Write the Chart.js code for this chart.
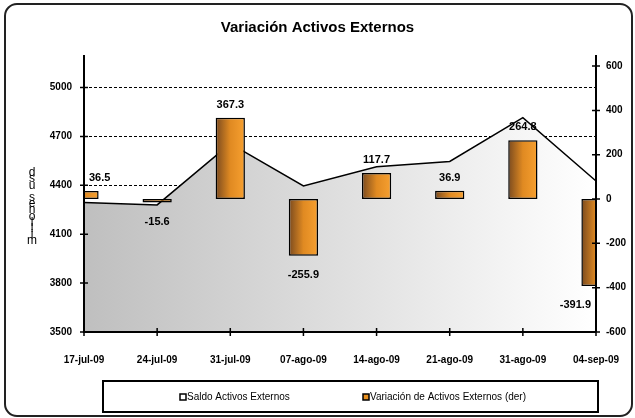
<!DOCTYPE html>
<html>
<head>
<meta charset="utf-8">
<script src="https://cdn.jsdelivr.net/npm/chart.js@4.4.0/dist/chart.umd.min.js"></script>
<style>
  html, body { margin: 0; padding: 0; background: #fff; }
</style>
</head>
<body>
<canvas id="chart" width="635" height="418"></canvas>
<script>
// Datos
const fechas = ['17-jul-09', '24-jul-09', '31-jul-09', '07-ago-09', '14-ago-09', '21-ago-09', '31-ago-09', '04-sep-09'];
const saldoActivos = [4295, 4280, 4656, 4396, 4514, 4547, 4816, 4427];
const variacionActivos = [36.5, -15.6, 367.3, -255.9, 117.7, 36.9, 264.8, -391.9];
const marcasIzq = [3500, 3800, 4100, 4400, 4700, 5000];
const marcasDer = [-600, -400, -200, 0, 200, 400, 600];
const etiquetasSeries = ['Saldo Activos Externos', 'Variación de Activos Externos (der)'];
const tituloGrafico = 'Variación Activos Externos';
const tituloEjeY = 'millones usd';

const FUENTE = '"Liberation Sans", Arial, sans-serif';
Chart.defaults.font.family = FUENTE;
Chart.defaults.color = '#000';

const ANCHO_BARRA = 0.4;

// Marco redondeado y fondo
const marco = {
    id: 'marco',
    beforeDraw(chart) {
        const ctx = chart.ctx;
        ctx.save();
        ctx.fillStyle = '#fff';
        ctx.fillRect(0, 0, chart.width, chart.height);
        const x0 = 5, y0 = 4, x1 = 632, y1 = 416, r = 12;
        ctx.beginPath();
        ctx.moveTo(x0 + r, y0);
        ctx.lineTo(x1 - r, y0);
        ctx.arcTo(x1, y0, x1, y0 + r, r);
        ctx.lineTo(x1, y1 - r);
        ctx.arcTo(x1, y1, x1 - r, y1, r);
        ctx.lineTo(x0 + r, y1);
        ctx.arcTo(x0, y1, x0, y1 - r, r);
        ctx.lineTo(x0, y0 + r);
        ctx.arcTo(x0, y0, x0 + r, y0, r);
        ctx.closePath();
        ctx.strokeStyle = '#222';
        ctx.lineWidth = 2;
        ctx.stroke();
        ctx.restore();
    }
};

// Ejes con marcas cruzadas y etiquetas de las barras
const ejes = {
    id: 'ejes',
    afterDatasetsDraw(chart) {
        const ctx = chart.ctx;
        const { left, right, top, bottom } = chart.chartArea;
        const sy = chart.scales.y, sy1 = chart.scales.y1, sx = chart.scales.x;
        ctx.save();
        ctx.strokeStyle = '#000';
        ctx.lineWidth = 2;
        ctx.beginPath();
        ctx.moveTo(left, top); ctx.lineTo(left, bottom); ctx.lineTo(right, bottom);
        ctx.moveTo(right, top); ctx.lineTo(right, bottom);
        ctx.stroke();
        ctx.lineWidth = 1.5;
        ctx.beginPath();
        sy.ticks.forEach(t => {
            const p = sy.getPixelForValue(t.value);
            ctx.moveTo(left - 4, p); ctx.lineTo(left + 4, p);
        });
        sy1.ticks.forEach(t => {
            const p = sy1.getPixelForValue(t.value);
            ctx.moveTo(right - 4, p); ctx.lineTo(right + 4, p);
        });
        fechas.forEach((f, i) => {
            const p = sx.getPixelForValue(i);
            ctx.moveTo(p, bottom - 4); ctx.lineTo(p, bottom + 4);
        });
        ctx.stroke();

        // etiquetas de valores
        const meta = chart.getDatasetMeta(1);
        ctx.font = 'bold 11px ' + FUENTE;
        ctx.fillStyle = '#000';
        ctx.textAlign = 'center';
        ctx.textBaseline = 'middle';
        meta.data.forEach((bar, i) => {
            const v = variacionActivos[i];
            const txt = v.toFixed(1);
            const w = ctx.measureText(txt).width;
            const x = Math.min(Math.max(bar.x, left + w / 2 + 5), right - w / 2 - 5);
            const y = v >= 0 ? bar.y - 13 : bar.y + 19;
            ctx.fillText(txt, x, y);
        });
        ctx.restore();
    }
};

// Leyenda en recuadro y título del eje vertical
const leyenda = {
    id: 'leyenda',
    afterDraw(chart) {
        const ctx = chart.ctx;
        ctx.save();
        ctx.strokeStyle = '#000';
        ctx.lineWidth = 2;
        ctx.strokeRect(103, 381, 495, 31);
        ctx.font = '10px ' + FUENTE;
        ctx.textBaseline = 'middle';
        ctx.textAlign = 'left';
        const rellenos = ['#ffffff', '#e8901f'];
        const xs = [180, 363];
        etiquetasSeries.forEach((txt, i) => {
            ctx.fillStyle = rellenos[i];
            ctx.fillRect(xs[i], 394, 6, 6);
            ctx.lineWidth = 1.5;
            ctx.strokeRect(xs[i], 394, 6, 6);
            ctx.fillStyle = '#000';
            ctx.fillText(txt, xs[i] + 7, 397.5);
        });

        // título eje Y, letras apiladas de abajo hacia arriba
        ctx.font = '12px ' + FUENTE;
        ctx.textAlign = 'center';
        tituloEjeY.split('').forEach((c, i) => {
            ctx.fillText(c, 32, 241 - i * 6.2);
        });
        ctx.restore();
    }
};

const ctx = document.getElementById('chart').getContext('2d');
new Chart(ctx, {
    data: {
        labels: fechas,
        datasets: [{
            type: 'line',
            label: etiquetasSeries[0],
            data: saldoActivos,
            yAxisID: 'y',
            order: 1,
            borderColor: '#000',
            borderWidth: 1.5,
            pointRadius: 0,
            tension: 0,
            fill: 'start',
            backgroundColor: function(context) {
                const area = context.chart.chartArea;
                if (!area) return '#d0d0d0';
                const g = context.chart.ctx.createLinearGradient(area.left, 0, area.right, 0);
                g.addColorStop(0, '#bfbfbf');
                g.addColorStop(1, '#ffffff');
                return g;
            }
        }, {
            type: 'bar',
            label: etiquetasSeries[1],
            data: variacionActivos,
            yAxisID: 'y1',
            order: 0,
            clip: 0,
            barPercentage: ANCHO_BARRA,
            categoryPercentage: 1,
            borderColor: '#000',
            borderWidth: 1.5,
            borderSkipped: false,
            backgroundColor: function(context) {
                const chart = context.chart;
                if (!chart.chartArea || !chart.scales.x) return '#e8901f';
                const sx = chart.scales.x;
                const paso = sx.getPixelForValue(1) - sx.getPixelForValue(0);
                const w = paso * ANCHO_BARRA;
                const cx = sx.getPixelForValue(context.dataIndex);
                const g = chart.ctx.createLinearGradient(cx - w / 2, 0, cx + w / 2, 0);
                g.addColorStop(0, '#7a4a1f');
                g.addColorStop(0.5, '#e08a22');
                g.addColorStop(1, '#f7a030');
                return g;
            }
        }]
    },
    options: {
        responsive: false,
        animation: false,
        layout: { padding: 0 },
        plugins: {
            legend: { display: false },
            tooltip: { enabled: false },
            title: {
                display: true,
                text: tituloGrafico,
                font: { size: 15, weight: 'bold' },
                color: '#000',
                padding: { top: 19, bottom: 18 }
            }
        },
        scales: {
            x: {
                type: 'category',
                offset: false,
                grid: { display: false },
                border: { display: false },
                ticks: {
                    font: { size: 10, weight: 'bold' },
                    color: '#000',
                    maxRotation: 0,
                    autoSkip: false,
                    padding: 14
                },
                afterFit: s => { s.height = 86; }
            },
            y: {
                position: 'left',
                min: 3500,
                max: 5200,
                afterBuildTicks: s => { s.ticks = marcasIzq.map(v => ({ value: v })); },
                grid: {
                    drawTicks: false,
                    lineWidth: 1,
                    color: c => (c.tick && c.tick.value === 3500) ? 'rgba(0,0,0,0)' : '#000'
                },
                border: { display: false, dash: [3, 2] },
                ticks: {
                    font: { size: 10, weight: 'bold' },
                    color: '#000',
                    padding: 12,
                    callback: v => String(v)
                },
                afterFit: s => { s.width = 84; }
            },
            y1: {
                position: 'right',
                min: -600,
                max: 650,
                afterBuildTicks: s => { s.ticks = marcasDer.map(v => ({ value: v })); },
                grid: { display: false, drawTicks: false },
                border: { display: false },
                ticks: {
                    font: { size: 10, weight: 'bold' },
                    color: '#000',
                    padding: 10,
                    callback: v => String(v)
                },
                afterFit: s => { s.width = 39; }
            }
        }
    },
    plugins: [marco, ejes, leyenda]
});
</script>
</body>
</html>
